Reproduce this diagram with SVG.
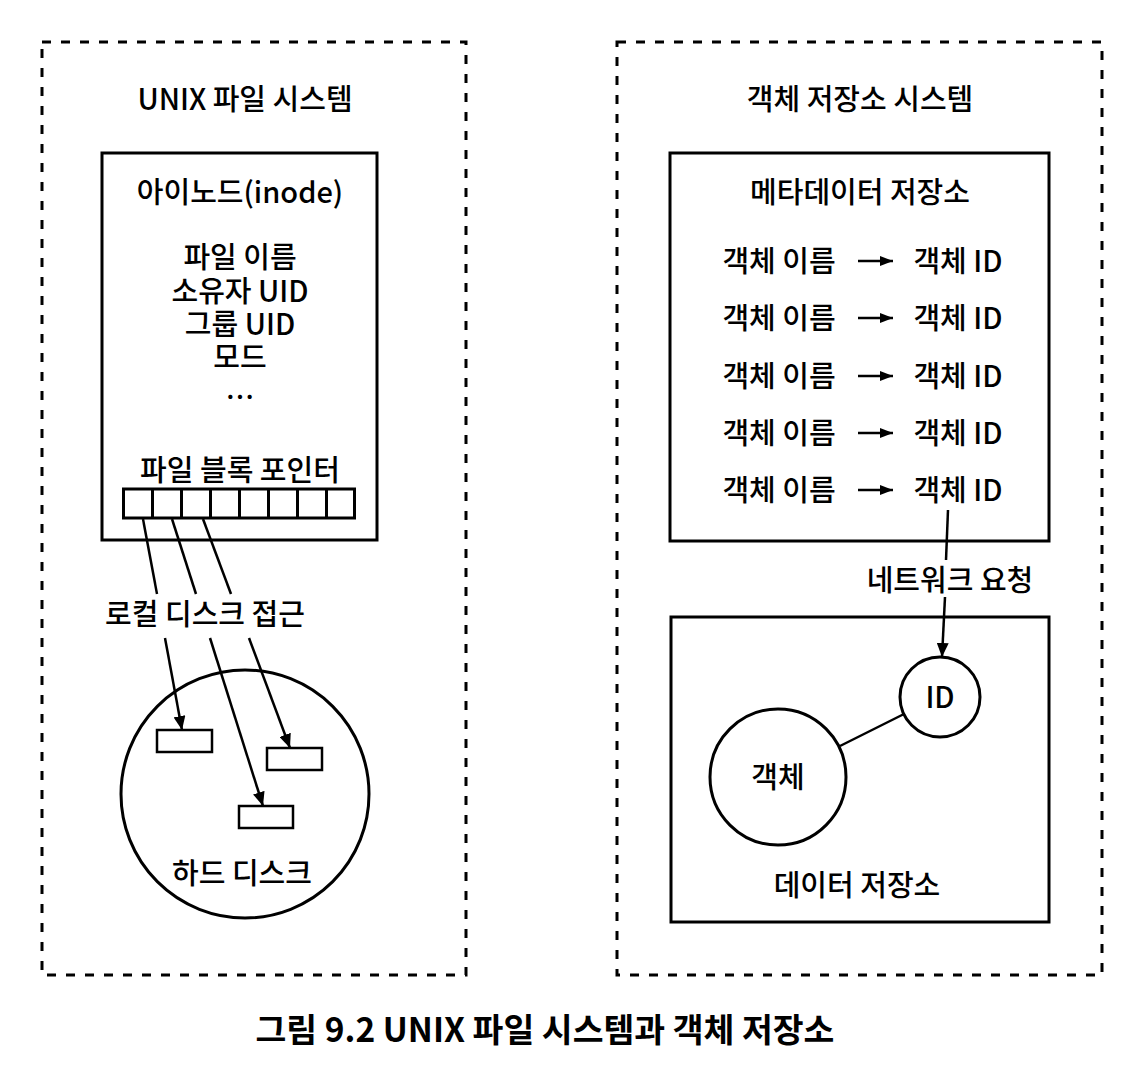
<svg xmlns="http://www.w3.org/2000/svg" width="1122" height="1084" viewBox="0 0 1122 1084">
<style>
text{font-family:"Noto Sans CJK KR","Noto Sans",sans-serif;font-size:29px;font-weight:500;fill:#000;text-anchor:middle}
.cap{font-size:33.5px;font-weight:bold}
.dash{fill:none;stroke:#000;stroke-width:3;stroke-dasharray:9 10}
.box{fill:#fff;stroke:#000;stroke-width:3}
.thin{fill:#fff;stroke:#000;stroke-width:2.5}
.ln{fill:none;stroke:#000;stroke-width:2.5}
.ln3{fill:none;stroke:#000;stroke-width:3}
</style>
<defs>
<marker id="ah" viewBox="0 0 14 12" refX="14" refY="6" markerWidth="14" markerHeight="12" markerUnits="userSpaceOnUse" orient="auto"><path d="M0,0 L14,6 L0,12 z" fill="#000"/></marker>
<marker id="ahs" viewBox="0 0 13 10" refX="13" refY="5" markerWidth="13" markerHeight="10" markerUnits="userSpaceOnUse" orient="auto"><path d="M0,0 L13,5 L0,10 z" fill="#000"/></marker>
</defs>
<rect width="1122" height="1084" fill="#fff"/>

<g id="unix-fs">
<rect class="dash" x="42" y="42" width="424" height="933"/>
<text x="245" y="110">UNIX 파일 시스템</text>
</g>

<g id="inode">
<rect class="box" x="102" y="153" width="275" height="387"/>
<text x="240" y="203">아이노드(inode)</text>
<text x="240" y="268">파일 이름</text>
<text x="240" y="302">소유자 UID</text>
<text x="240" y="335">그룹 UID</text>
<text x="240" y="368">모드</text>
<text x="240" y="408">…</text>
<text x="240" y="481">파일 블록 포인터</text>
<g id="pointers">
<rect class="box" x="123.5" y="489" width="231" height="29"/>
<path class="ln3" d="M152.5,489V518M181.5,489V518M210.5,489V518M239.5,489V518M268.5,489V518M297.5,489V518M326.5,489V518"/>
</g>
</g>

<g id="hard-disk">
<circle class="ln3" cx="245" cy="794" r="124"/>
<rect class="thin" x="157" y="730" width="55" height="22"/>
<rect class="thin" x="267" y="748" width="55" height="22"/>
<rect class="thin" x="239" y="806" width="54" height="22"/>
<text x="242" y="884">하드 디스크</text>
</g>

<g id="object-store">
<rect class="dash" x="617" y="42" width="485" height="933"/>
<text x="860" y="110">객체 저장소 시스템</text>
</g>

<g id="metadata">
<rect class="box" x="670" y="153" width="379" height="388"/>
<text x="860" y="203">메타데이터 저장소</text>
<text x="779" y="272">객체 이름</text><text x="958" y="272">객체 ID</text>
<text x="779" y="329">객체 이름</text><text x="958" y="329">객체 ID</text>
<text x="779" y="387">객체 이름</text><text x="958" y="387">객체 ID</text>
<text x="779" y="444">객체 이름</text><text x="958" y="444">객체 ID</text>
<text x="779" y="501">객체 이름</text><text x="958" y="501">객체 ID</text>
</g>

<g id="data-store">
<rect class="box" x="671" y="617" width="378" height="305"/>
<circle class="ln3" cx="778" cy="777" r="68"/>
<text x="778" y="788">객체</text>
<circle class="ln3" cx="940" cy="697" r="40"/>
<text x="940" y="708">ID</text>
<text x="857" y="896">데이터 저장소</text>
</g>

<g id="connectors">
<path class="ln" d="M858,261H893" marker-end="url(#ahs)"/>
<path class="ln" d="M858,318H893" marker-end="url(#ahs)"/>
<path class="ln" d="M858,376H893" marker-end="url(#ahs)"/>
<path class="ln" d="M858,433H893" marker-end="url(#ahs)"/>
<path class="ln" d="M858,490H893" marker-end="url(#ahs)"/>
<path class="ln" d="M143,519L157,594"/>
<path class="ln" d="M165,638L182,730" marker-end="url(#ah)"/>
<path class="ln" d="M172,519L196,594"/>
<path class="ln" d="M210,638L263,806" marker-end="url(#ah)"/>
<path class="ln" d="M203,519L231,594"/>
<path class="ln" d="M249,638L290,748" marker-end="url(#ah)"/>
<text x="205" y="625">로컬 디스크 접근</text>
<path class="ln" d="M948,510L946,560"/>
<path class="ln" d="M945,597L942,657" marker-end="url(#ah)"/>
<text x="950" y="591">네트워크 요청</text>
<path class="ln" d="M840,746L904,714"/>
</g>

<text class="cap" x="545" y="1042">그림 9.2 UNIX 파일 시스템과 객체 저장소</text>
</svg>
